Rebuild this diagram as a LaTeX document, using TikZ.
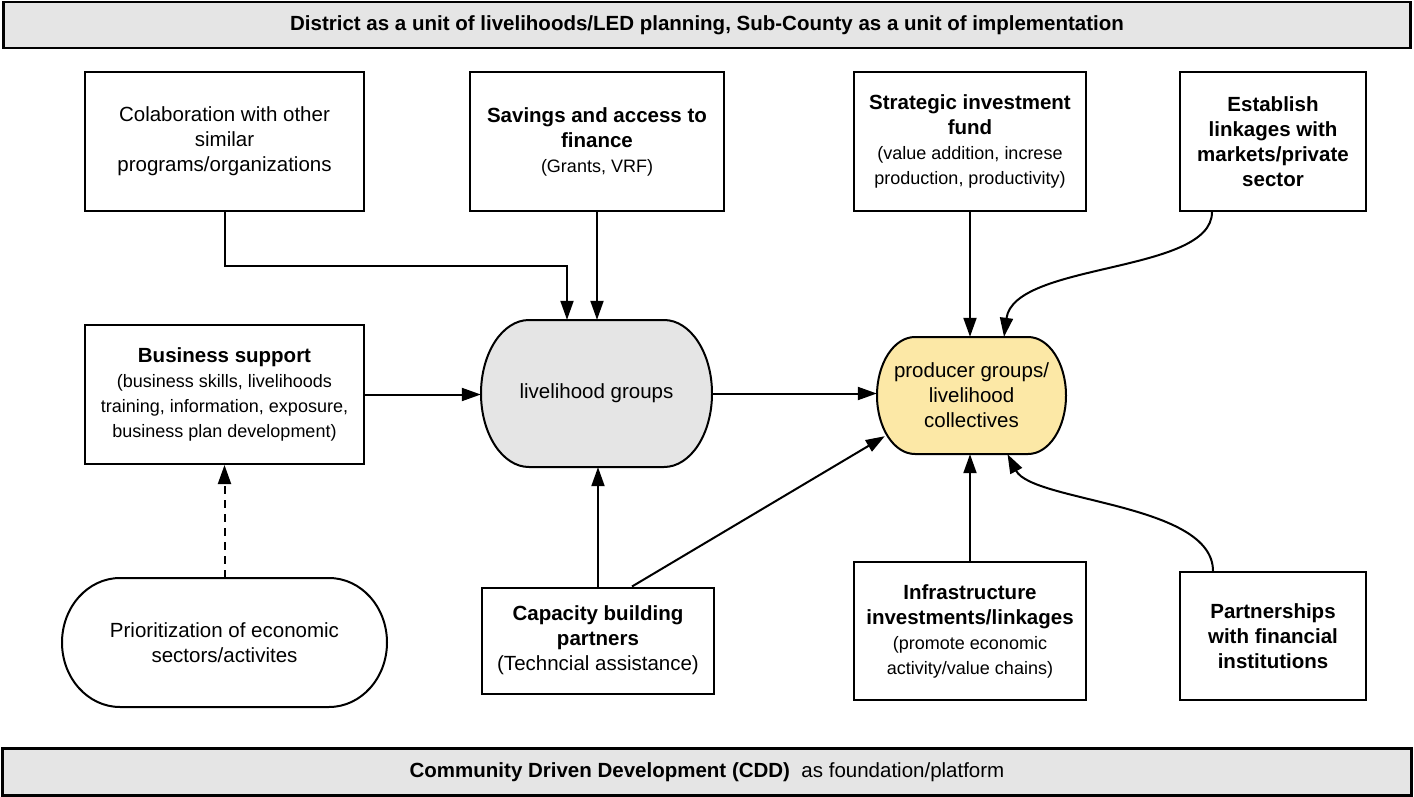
\documentclass[tikz,border=0pt]{standalone}
\usepackage{fontspec}
\setmainfont{Liberation Sans}
\usetikzlibrary{arrows.meta}
\newcommand\fbig{\fontsize{20.5}{25}\selectfont}
\newcommand\fsmall{\fontsize{18}{23}\selectfont}
\definecolor{bggray}{RGB}{229,229,229}
\definecolor{pgyellow}{RGB}{252,232,166}
\tikzset{
  box/.style={draw, line width=2pt, fill=white, inner sep=0pt, align=center, font=\fbig},
  banner/.style={draw, line width=2.2pt, fill=bggray, inner sep=0pt, align=center, font=\fbig},
  blobtxt/.style={inner sep=0pt, align=center, font=\fbig},
  blob/.style={draw, line width=2pt},
  arr/.style={line width=2pt, -{Triangle[length=19pt,width=13pt]}},
}
\begin{document}
\begin{tikzpicture}[x=1pt,y=-1pt]
\useasboundingbox (0,0) rectangle (1414,797);
% banners
\node[banner, minimum width=1407pt, minimum height=46pt] (top) at (707,25) {\bfseries District as a unit of livelihoods/LED planning, Sub-County as a unit of implementation};
\node[banner, minimum width=1409pt, minimum height=47pt] (bot) at (707,772) {\textbf{Community Driven Development (CDD)}\ \ as foundation/platform};
% rounded shapes
\draw[blob, fill=bggray] (529,320) -- (664,320) arc[start angle=-90,end angle=90,x radius=48,y radius=73.5] -- (529,467) arc[start angle=90,end angle=270,x radius=48,y radius=73.5] -- cycle;
\draw[blob, fill=pgyellow] (915,337) -- (1028,337) arc[start angle=-90,end angle=90,x radius=38,y radius=58.5] -- (915,454) arc[start angle=90,end angle=270,x radius=38,y radius=58.5] -- cycle;
\draw[blob, fill=white] (120,578) -- (329,578) arc[start angle=-90,end angle=90,x radius=58,y radius=64.5] -- (120,707) arc[start angle=90,end angle=270,x radius=58,y radius=64.5] -- cycle;
\node[blobtxt, minimum width=231pt, minimum height=147pt] (lg) at (596.5,393.5) {livelihood groups};
\node[blobtxt, minimum width=189pt, minimum height=117pt] (pg) at (971.5,395.5) {producer groups/\\livelihood\\collectives};
\node[blobtxt, minimum width=325pt, minimum height=129pt] (pr) at (224.5,642.5) {Prioritization of economic\\sectors/activites};
% boxes
\node[box, minimum width=279pt, minimum height=139pt] (colab) at (224.5,141.5) {Colaboration with other\\similar\\programs/organizations};
\node[box, minimum width=254pt, minimum height=139pt] (sav) at (597,141.5) {\bfseries Savings and access to\\\bfseries finance\\\fsmall (Grants, VRF)};
\node[box, minimum width=232pt, minimum height=139pt] (sif) at (970,141.5) {\bfseries Strategic investment\\\bfseries fund\\\fsmall (value addition, increse\\\fsmall production, productivity)};
\node[box, minimum width=186pt, minimum height=139pt] (est) at (1273,141.5) {\bfseries Establish\\\bfseries linkages with\\\bfseries markets/private\\\bfseries sector};
\node[box, minimum width=279pt, minimum height=139pt] (bs) at (224.5,394.5) {\bfseries Business support\\\fsmall (business skills, livelihoods\\\fsmall training, information, exposure,\\\fsmall business plan development)};
\node[box, minimum width=232pt, minimum height=106pt] (cap) at (598,640.5) {\bfseries Capacity building\\\bfseries partners\\(Techncial assistance)};
\node[box, minimum width=232pt, minimum height=138pt] (inf) at (970,631) {\bfseries Infrastructure\\\bfseries investments/linkages\\\fsmall (promote economic\\\fsmall activity/value chains)};
\node[box, minimum width=186pt, minimum height=128pt] (pfi) at (1273,636) {\bfseries Partnerships\\\bfseries with financial\\\bfseries institutions};
% connectors
\coordinate (bend) at (567,266);
\draw[arr] (colab.south) |- (bend) -- (bend |- lg.north);
\draw[arr] (sav.south) -- (sav.south |- lg.north);
\draw[arr] (sif.south) -- (sif.south |- pg.north);
\draw[arr] ([xshift=-61pt]est.south) .. controls +(0,62) and +(10,-75) .. ([xshift=32.5pt]pg.north);
\draw[arr] (bs.east) -- (bs.east -| lg.west);
\draw[arr] (lg.east) -- (lg.east -| pg.west);
\draw[arr] (cap.north) -- (cap.north |- lg.south);
\draw[arr] ([xshift=34pt]cap.north) -- ([xshift=8pt,yshift=18pt]pg.south west);
\draw[arr] (inf.north) -- (inf.north |- pg.south);
\draw[arr] ([xshift=-60pt]pfi.north) .. controls +(0,-68) and +(25,48) .. ([xshift=36pt]pg.south);
\draw[arr, dash pattern=on 8pt off 6pt] (pr.north) -- (pr.north |- bs.south);
\end{tikzpicture}
\end{document}
